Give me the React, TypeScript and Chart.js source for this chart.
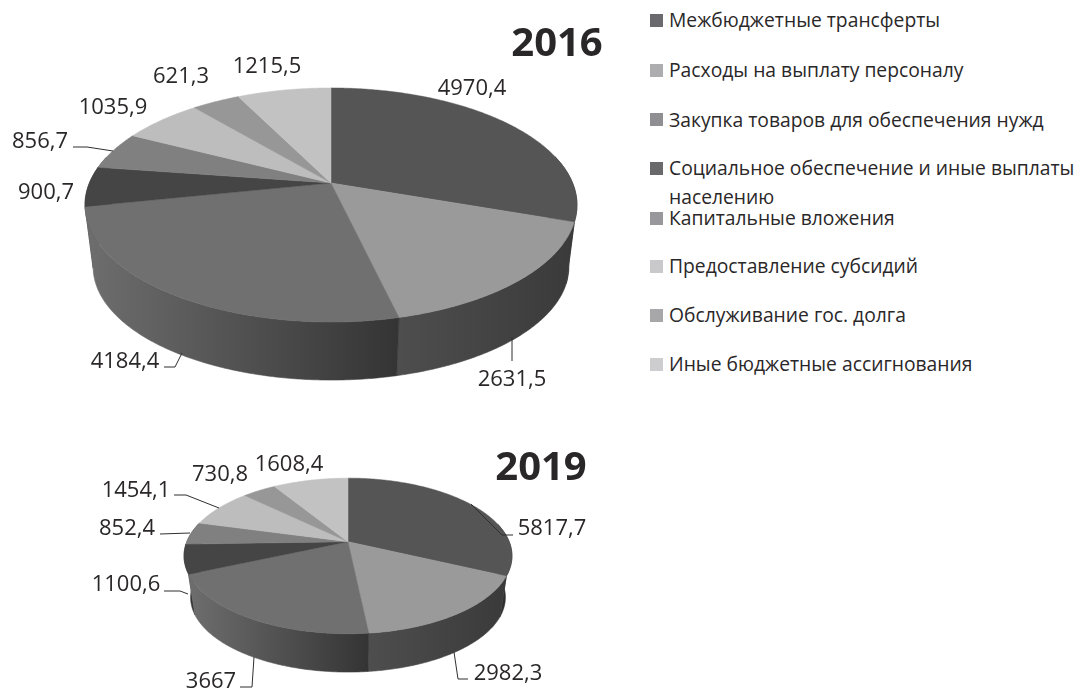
import React, { useEffect, useRef } from "react";
import { Chart, registerables } from "chart.js";

Chart.register(...registerables);

const categories = [
  "Межбюджетные трансферты",
  "Расходы на выплату персоналу",
  "Закупка товаров для обеспечения нужд",
  "Социальное обеспечение и иные выплаты населению",
  "Капитальные вложения",
  "Предоставление субсидий",
  "Обслуживание гос. долга",
  "Иные бюджетные ассигнования",
];
const values2016 = [4970.4, 2631.5, 4184.4, 900.7, 856.7, 1035.9, 621.3, 1215.5];
const values2019 = [5817.7, 2982.3, 3667, 1100.6, 852.4, 1454.1, 730.8, 1608.4];
const labels2016 = ["4970,4", "2631,5", "4184,4", "900,7", "856,7", "1035,9", "621,3", "1215,5"];
const labels2019 = ["5817,7", "2982,3", "3667", "1100,6", "852,4", "1454,1", "730,8", "1608,4"];

const topColors = ["#555555", "#9a9a9a", "#707070", "#454545", "#808080", "#bdbdbd", "#979797", "#c2c2c2"];
const wallLeft = ["#333333", "#4e4e4e", "#6e6e6e", "#3a3a3a", "#555555", "#777777", "#666666", "#777777"];
const wallRight = ["#2c2c2c", "#3a3a3a", "#343434", "#333333", "#555555", "#777777", "#666666", "#777777"];
const legendColors = ["#6a6a6e", "#adadaf", "#8f8f93", "#69696c", "#98989c", "#c9c9cb", "#a7a7aa", "#cdcdcf"];

const FONT = '"Open Sans", sans-serif';
const INK = "#2a2728";

type Geometry = {
  cx: number; cy: number; A: number; B: number; p: number;
  depth: number; shrink: number; top: number;
};
type Layout = {
  title: string; titleX: number; titleY: number;
  text: [number, number][];
  leaders: [number, number][][];
};

const geometry2016: Geometry = { cx: 331, cy: 183, A: 241.6, B: 112.9, p: 0.188, depth: 62.6, shrink: 0.967, top: 0 };
const geometry2019: Geometry = { cx: 348, cy: 541.7, A: 161.2, B: 75.2, p: 0.183, depth: 42, shrink: 0.96, top: 420 };

const layout2016: Layout = {
  title: "2016", titleX: 557, titleY: 45,
  text: [[472, 88.5], [512, 379.5], [125, 361.5], [46, 192.5], [40, 141.5], [113, 107.5], [181, 76.5], [267, 66.5]],
  leaders: [
    [[73, 147], [87, 147], [113, 151]],
    [[164, 367], [175, 367], [182, 353]],
    [[512, 337], [512, 361]],
  ],
};
const layout2019: Layout = {
  title: "2019", titleX: 541, titleY: 469,
  text: [[552, 528.5], [508, 673.5], [211, 681.5], [126, 584.5], [127, 528.5], [136, 490.5], [220, 474.5], [289, 464.5]],
  leaders: [
    [[174, 495], [186, 495], [219, 508]],
    [[160, 534], [190, 533]],
    [[164, 591], [180, 591], [188, 594]],
    [[240, 687], [252, 687], [254, 657]],
    [[513, 535], [502, 535], [471, 504]],
    [[468, 679], [458, 679], [454, 652]],
  ],
};

function project(g: Geometry, angle: number) {
  const u = Math.cos(angle);
  const v = Math.sin(angle);
  const w = 1 - g.p * v;
  return { x: (g.A * u) / w, y: (g.B * v) / w };
}

function makePlugin(g: Geometry, layout: Layout, texts: string[]) {
  return {
    id: "pie3d",
    beforeDatasetsDraw(chart: any) {
      const ctx: CanvasRenderingContext2D = chart.ctx;
      const arcs: any[] = chart.getDatasetMeta(0).data;
      ctx.save();
      ctx.translate(0, -g.top);

      // Walls are painted back to front, so a slice nearer the viewer covers its neighbour.
      const order = arcs
        .map((arc, i) => ({ arc, i, depth: Math.sin((arc.startAngle + arc.endAngle) / 2) }))
        .sort((a, b) => a.depth - b.depth);
      order.forEach(({ arc, i }) => {
        const steps = Math.max(4, Math.ceil((arc.endAngle - arc.startAngle) / 0.01));
        const topPts: { x: number; y: number }[] = [];
        const botPts: { x: number; y: number }[] = [];
        for (let s = 0; s <= steps; s++) {
          const a = arc.startAngle + ((arc.endAngle - arc.startAngle) * s) / steps;
          if (Math.sin(a) < -0.25) continue;
          const q = project(g, a);
          topPts.push({ x: g.cx + q.x, y: g.cy + q.y });
          botPts.push({ x: g.cx + q.x * g.shrink, y: g.cy + g.depth + q.y * g.shrink });
        }
        if (topPts.length < 2) return;
        const xs = topPts.concat(botPts).map((pt) => pt.x);
        const grad = ctx.createLinearGradient(Math.min(...xs), 0, Math.max(...xs), 0);
        grad.addColorStop(0, wallLeft[i]);
        grad.addColorStop(1, wallRight[i]);
        ctx.beginPath();
        topPts.forEach((pt, k) => (k ? ctx.lineTo(pt.x, pt.y) : ctx.moveTo(pt.x, pt.y)));
        botPts.reverse().forEach((pt) => ctx.lineTo(pt.x, pt.y));
        ctx.closePath();
        ctx.fillStyle = grad;
        ctx.fill();
        ctx.strokeStyle = grad;
        ctx.lineWidth = 0.6;
        ctx.stroke();
      });

      arcs.forEach((arc: any, i: number) => {
        const steps = Math.max(4, Math.ceil((arc.endAngle - arc.startAngle) / 0.01));
        ctx.beginPath();
        ctx.moveTo(g.cx, g.cy);
        for (let s = 0; s <= steps; s++) {
          const a = arc.startAngle + ((arc.endAngle - arc.startAngle) * s) / steps;
          const q = project(g, a);
          ctx.lineTo(g.cx + q.x, g.cy + q.y);
        }
        ctx.closePath();
        ctx.fillStyle = topColors[i];
        ctx.fill();
        ctx.strokeStyle = topColors[i];
        ctx.lineWidth = 0.5;
        ctx.stroke();
      });

      ctx.strokeStyle = "#2f2f2f";
      ctx.lineWidth = 1;
      layout.leaders.forEach((line) => {
        ctx.beginPath();
        line.forEach(([x, y], k) => (k ? ctx.lineTo(x, y) : ctx.moveTo(x, y)));
        ctx.stroke();
      });

      ctx.fillStyle = INK;
      ctx.textAlign = "center";
      ctx.textBaseline = "middle";
      ctx.font = `22px ${FONT}`;
      texts.forEach((t, i) => ctx.fillText(t, layout.text[i][0], layout.text[i][1]));
      ctx.font = `bold 40px ${FONT}`;
      ctx.fillText(layout.title, layout.titleX, layout.titleY);
      ctx.restore();
      return false;
    },
  };
}

function Pie({ values, texts, g, layout, height }: { values: number[]; texts: string[]; g: Geometry; layout: Layout; height: number }) {
  const ref = useRef<HTMLCanvasElement>(null);
  useEffect(() => {
    const chart = new Chart(ref.current!, {
      type: "pie",
      data: { labels: categories, datasets: [{ data: values, backgroundColor: topColors, borderWidth: 0 }] },
      options: {
        animation: false,
        responsive: false,
        plugins: { legend: { display: false }, tooltip: { enabled: false } },
      },
      plugins: [makePlugin(g, layout, texts)],
    } as any);
    return () => chart.destroy();
  }, []);
  return (
    <canvas
      ref={ref}
      width={640}
      height={height}
      style={{ position: "absolute", left: 0, top: g.top, width: 640, height, display: "block" }}
    />
  );
}

const legendRowY = [20, 70, 119.5, 168, 218, 266, 315, 364];

export default function App() {
  return (
    <div style={{ position: "absolute", left: 0, top: 0, width: 1076, height: 689, overflow: "hidden", background: "#fff" }}>
      <Pie values={values2016} texts={labels2016} g={geometry2016} layout={layout2016} height={420} />
      <Pie values={values2019} texts={labels2019} g={geometry2019} layout={layout2019} height={269} />
      {categories.map((c, i) => (
        <React.Fragment key={c}>
          <div style={{ position: "absolute", left: 650, top: legendRowY[i] - 6.5, width: 13, height: 13, background: legendColors[i] }} />
          <div
            style={{
              position: "absolute", left: 669, top: legendRowY[i] - 15, width: 415,
              font: `19.3px/29px ${FONT}`, color: INK,
            }}
          >
            {c}
          </div>
        </React.Fragment>
      ))}
    </div>
  );
}
